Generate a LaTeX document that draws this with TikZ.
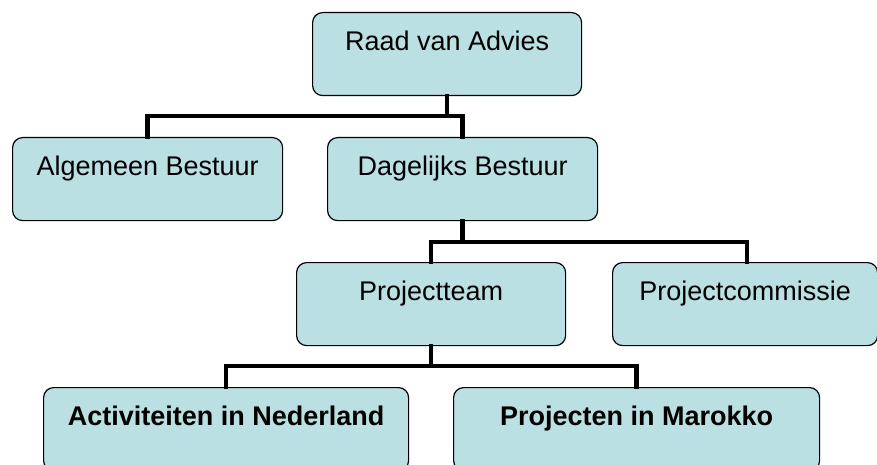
\documentclass[tikz,border=0pt]{standalone}
\usepackage{fontspec}
\setmainfont{Liberation Sans}
\definecolor{boxfill}{HTML}{BBE0E3}
\tikzset{
  orgbox/.style={draw=black, line width=1.2pt, fill=boxfill, rounded corners=10pt,
    rectangle, anchor=north west, inner xsep=0pt, inner ysep=0pt,
    text height=38pt, text depth=45pt, align=center,
    font=\fontsize{27}{32}\selectfont},
  boldbox/.style={orgbox, font=\fontsize{27}{32}\selectfont\bfseries},
  conn/.style={draw=black, line width=4.5pt, line join=miter, line cap=rect}
}
\begin{document}
\begin{tikzpicture}[x=1pt,y=-1pt]
\useasboundingbox (0,0) rectangle (877,465);
\node[orgbox, minimum width=269pt] (raad) at (312,12) {Raad van Advies};
\node[orgbox, minimum width=270pt] (alg) at (12,137) {Algemeen Bestuur};
\node[orgbox, minimum width=270pt] (dag) at (327,137) {Dagelijks Bestuur};
\node[orgbox, minimum width=269pt] (pteam) at (296,262) {Projectteam};
\node[orgbox, minimum width=265pt] (pcomm) at (612,262) {Projectcommissie};
\node[boldbox, minimum width=365pt] (act) at (43,387) {Activiteiten in Nederland};
\node[boldbox, minimum width=366pt] (proj) at (453,387) {Projecten in Marokko};

\coordinate (bus1) at (0,116);
\coordinate (bus2) at (0,242);
\coordinate (bus3) at (0,366);

\draw[conn] (raad.south) -- (raad.south |- bus1);
\draw[conn] (alg.north) -- (alg.north |- bus1) -- (dag.north |- bus1) -- (dag.north);

\draw[conn] (dag.south) -- (dag.south |- bus2);
\draw[conn] (pteam.north) -- (pteam.north |- bus2) -- ([xshift=2pt]pcomm.north |- bus2) -- ([xshift=2pt]pcomm.north);

\draw[conn] (pteam.south) -- (pteam.south |- bus3);
\draw[conn] (act.north) -- (act.north |- bus3) -- (proj.north |- bus3) -- (proj.north);
\end{tikzpicture}
\end{document}
